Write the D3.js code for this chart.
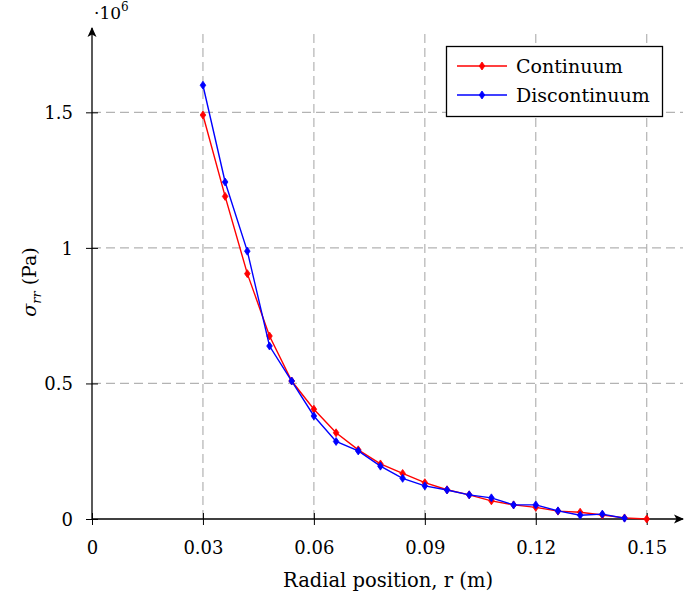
<!DOCTYPE html>
<html><head><meta charset="utf-8">
<script src="https://cdn.jsdelivr.net/npm/d3@7"></script>
<style>
body{margin:0;background:#fff;}
svg text{font-family:'DejaVu Serif',serif !important;fill:#000;}
</style></head>
<body><svg id="c" width="685" height="597"></svg>
<script>
const radius = [0.03,0.036,0.042,0.048,0.054,0.06,0.066,0.072,0.078,0.084,0.09,0.096,0.102,0.108,0.114,0.12,0.126,0.132,0.138,0.144,0.15];
const continuum = [1.49,1.19,0.905,0.675,0.509,0.405,0.318,0.255,0.203,0.168,0.134,0.108,0.089,0.067,0.052,0.043,0.029,0.025,0.015,0.004,0.0];
const discontinuum = [1.6,1.243,0.988,0.638,0.509,0.38,0.286,0.251,0.195,0.15,0.122,0.107,0.089,0.078,0.052,0.052,0.03,0.014,0.018,0.003];
const xTicks = [0,0.03,0.06,0.09,0.12,0.15];
const xTickLabels = ["0","0.03","0.06","0.09","0.12","0.15"];
const yTicks = [0,0.5,1,1.5];
const yTickLabels = ["0","0.5","1","1.5"];
const seriesNames = ["Continuum","Discontinuum"];
const seriesColors = ["#ff0000","#0000ff"];

const svg = d3.select("#c");
const x = d3.scaleLinear().domain([0,0.159]).range([92,680]);
const y = d3.scaleLinear().domain([0,1.8]).range([519,31]);

// grid
const g = svg.append("g");
g.selectAll(".vg").data(xTicks.slice(1)).join("line")
 .attr("x1",d=>x(d)).attr("x2",d=>x(d)).attr("y1",y(0)).attr("y2",31)
 .attr("stroke","#b3b3b3").attr("stroke-width",1.2).attr("stroke-dasharray","9,5");
g.selectAll(".hg").data(yTicks.slice(1)).join("line")
 .attr("x1",x(0)).attr("x2",683).attr("y1",d=>y(d)).attr("y2",d=>y(d))
 .attr("stroke","#b3b3b3").attr("stroke-width",1.2).attr("stroke-dasharray","9,5");

// axes with ticks
const xAxis = d3.axisBottom(x).tickValues(xTicks).tickFormat((d,i)=>xTickLabels[i]).tickSizeInner(6).tickSizeOuter(0);
const xa = svg.append("g").attr("transform",`translate(0,${y(0)})`).call(xAxis).attr("font-family",null).attr("font-size",null);
xa.select(".domain").remove();
xa.selectAll(".tick line").attr("y1",-6).attr("y2",6).attr("stroke","#000");
xa.selectAll(".tick text").attr("y",22).attr("dy","0.71em").style("font-size","18px");

const yAxis = d3.axisLeft(y).tickValues(yTicks).tickFormat((d,i)=>yTickLabels[i]).tickSizeInner(6).tickSizeOuter(0);
const ya = svg.append("g").attr("transform",`translate(${x(0)},0)`).call(yAxis).attr("font-family",null).attr("font-size",null);
ya.select(".domain").remove();
ya.selectAll(".tick line").attr("x1",-6).attr("x2",6).attr("stroke","#000");
ya.selectAll(".tick text").attr("x",-19).attr("dy","0.35em").style("font-size","18px");

// axis lines with arrows
const defs = svg.append("defs");
defs.append("marker").attr("id","arr").attr("viewBox","0 0 10 10").attr("refX",9).attr("refY",5)
 .attr("markerWidth",10).attr("markerHeight",10).attr("markerUnits","userSpaceOnUse").attr("orient","auto")
 .append("path").attr("d","M0,0.5 L10,5 L0,9.5 L2.5,5 Z").attr("fill","#000");
svg.append("line").attr("x1",x(0)).attr("x2",683).attr("y1",y(0)).attr("y2",y(0))
 .attr("stroke","#000").attr("stroke-width",1.3).attr("marker-end","url(#arr)");
svg.append("line").attr("x1",x(0)).attr("x2",x(0)).attr("y1",y(0)).attr("y2",28)
 .attr("stroke","#000").attr("stroke-width",1.3).attr("marker-end","url(#arr)");

// series
const series = [continuum, discontinuum];
const line = d3.line().x(d=>x(d[0])).y(d=>y(d[1]));
const diamond = "M0,-4 L2.8,0 L0,4 L-2.8,0 Z";
series.forEach((vals,k)=>{
  const pts = vals.map((v,i)=>[radius[i],v]);
  svg.append("path").datum(pts).attr("d",line).attr("fill","none")
    .attr("stroke",seriesColors[k]).attr("stroke-width",1.4);
  svg.append("g").selectAll("path").data(pts).join("path")
    .attr("transform",d=>`translate(${x(d[0])},${y(d[1])})`)
    .attr("d",diamond).attr("fill",seriesColors[k]).attr("stroke",seriesColors[k]).attr("stroke-width",0.8);
});

// multiplier label
const m = svg.append("text").attr("x",94).attr("y",19).style("font-size","17px");
m.append("tspan").text("·10");
m.append("tspan").attr("dy",-8).style("font-size","12px").text("6");

// axis titles
svg.append("text").attr("x",388).attr("y",587).attr("text-anchor","middle").style("font-size","19.5px")
 .text("Radial position, r (m)");
const yl = svg.append("text").attr("transform","translate(36,282) rotate(-90)").attr("text-anchor","middle").style("font-size","19px");
yl.append("tspan").style("font-style","italic").text("σ");
yl.append("tspan").attr("dy",5).style("font-style","italic").style("font-size","13px").text("rr");
yl.append("tspan").attr("dy",-5).text(" (Pa)");

// legend
const lg = svg.append("g");
lg.append("rect").attr("x",446.5).attr("y",46.5).attr("width",216).attr("height",70)
 .attr("fill","#fff").attr("stroke","#000").attr("stroke-width",1.3);
seriesNames.forEach((n,k)=>{
  const yy = 66 + k*29;
  lg.append("line").attr("x1",457).attr("x2",507).attr("y1",yy).attr("y2",yy)
    .attr("stroke",seriesColors[k]).attr("stroke-width",1.4);
  lg.append("path").attr("transform",`translate(482,${yy})`).attr("d",diamond)
    .attr("fill",seriesColors[k]).attr("stroke",seriesColors[k]).attr("stroke-width",0.8);
  lg.append("text").attr("x",516).attr("y",yy).attr("dy","0.35em").style("font-size","19px").text(n);
});
</script></body></html>
